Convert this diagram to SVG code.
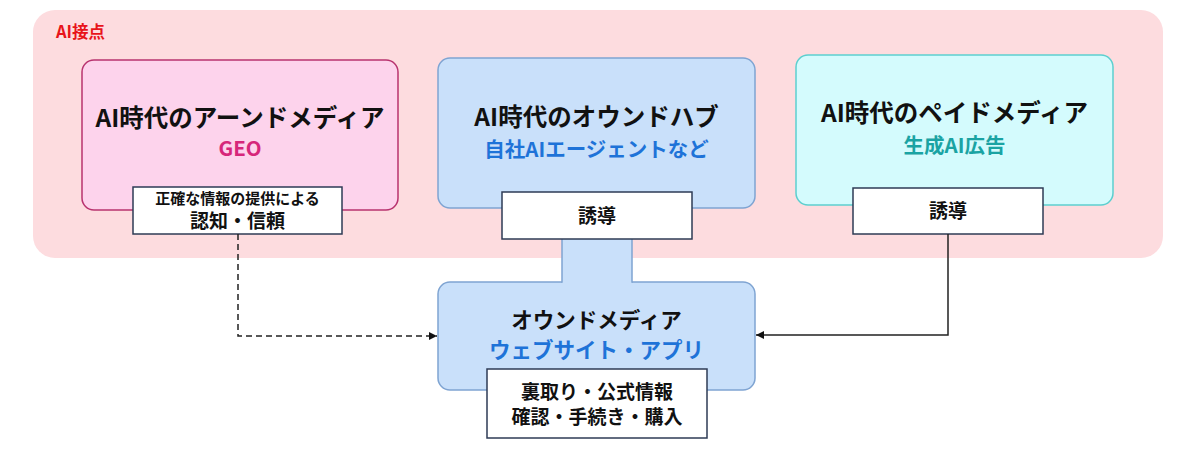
<svg xmlns="http://www.w3.org/2000/svg" width="1200" height="450" viewBox="0 0 1200 450">
<style>
text{font-family:"Noto Sans CJK JP","Noto Sans",sans-serif;font-weight:700;text-anchor:middle;fill:#111}
.title{font-size:24.5px}
.sub{font-size:20.5px}
.lbl{fill:#fff;stroke:#2e3b55;stroke-width:1.5}
.blue{fill:#c9e0fa;stroke:#7fa4d2;stroke-width:1.5}
.conn{fill:none;stroke:#222;stroke-width:1.5}
</style>
<defs>
<marker id="ah" viewBox="0 0 10 10" refX="10" refY="5" markerWidth="8" markerHeight="8" orient="auto" markerUnits="userSpaceOnUse">
<path d="M0,0 L10,5 L0,10 z" fill="#111"/>
</marker>
</defs>
<g id="ai-touchpoint">
<rect x="33" y="10" width="1130" height="248" rx="22" fill="#fddcdf"/>
<text x="56" y="38" style="font-size:16.5px;fill:#e8141a;text-anchor:start">AI接点</text>
</g>
<g id="earned">
<rect x="82" y="60" width="316" height="150" rx="12" fill="#fdd3ec" stroke="#b8336f" stroke-width="1.5"/>
<text class="title" x="240" y="127">AI時代のアーンドメディア</text>
<text class="sub" x="240" y="156" style="fill:#d6267a">GEO</text>
</g>
<g id="owned-hub">
<rect class="blue" x="438" y="58" width="317" height="150" rx="12"/>
<text class="title" x="596.5" y="126">AI時代のオウンドハブ</text>
<text class="sub" x="596.5" y="157" style="fill:#1e73d8">自社AIエージェントなど</text>
</g>
<g id="paid">
<rect x="796" y="55" width="317" height="150" rx="12" fill="#d4fbfd" stroke="#5ccfcf" stroke-width="1.5"/>
<text class="title" x="954.5" y="122">AI時代のペイドメディア</text>
<text class="sub" x="954.5" y="153" style="fill:#1aa3a3">生成AI広告</text>
</g>
<g id="owned-media">
<rect class="blue" x="438" y="282" width="317" height="108" rx="12"/>
<rect x="562" y="238" width="70" height="46" fill="#c9e0fa"/>
<path d="M562,238 V282.8 M632,238 V282.8" stroke="#7fa4d2" stroke-width="1.5" fill="none"/>
<text x="596.5" y="328" style="font-size:21.5px">オウンドメディア</text>
<text x="596.5" y="358" style="font-size:21.5px;fill:#1e73d8">ウェブサイト・アプリ</text>
</g>
<g id="label-earned">
<rect class="lbl" x="133" y="187" width="209" height="47"/>
<text x="237.5" y="204" style="font-size:15px">正確な情報の提供による</text>
<text x="237.5" y="228" style="font-size:19px">認知・信頼</text>
</g>
<g id="label-hub">
<rect class="lbl" x="502" y="192" width="190" height="47"/>
<text x="597" y="223" style="font-size:19px">誘導</text>
</g>
<g id="label-paid">
<rect class="lbl" x="853" y="188" width="190" height="46"/>
<text x="948" y="218" style="font-size:19px">誘導</text>
</g>
<g id="label-owned">
<rect class="lbl" x="487" y="369" width="220" height="69"/>
<text x="597" y="399" style="font-size:19px">裏取り・公式情報</text>
<text x="597" y="424" style="font-size:19px">確認・手続き・購入</text>
</g>
<g id="connectors">
<path class="conn" d="M238,234 V336 H437" stroke-dasharray="6,4" marker-end="url(#ah)"/>
<path class="conn" d="M948,234 V335 H756" marker-end="url(#ah)"/>
</g>
</svg>
